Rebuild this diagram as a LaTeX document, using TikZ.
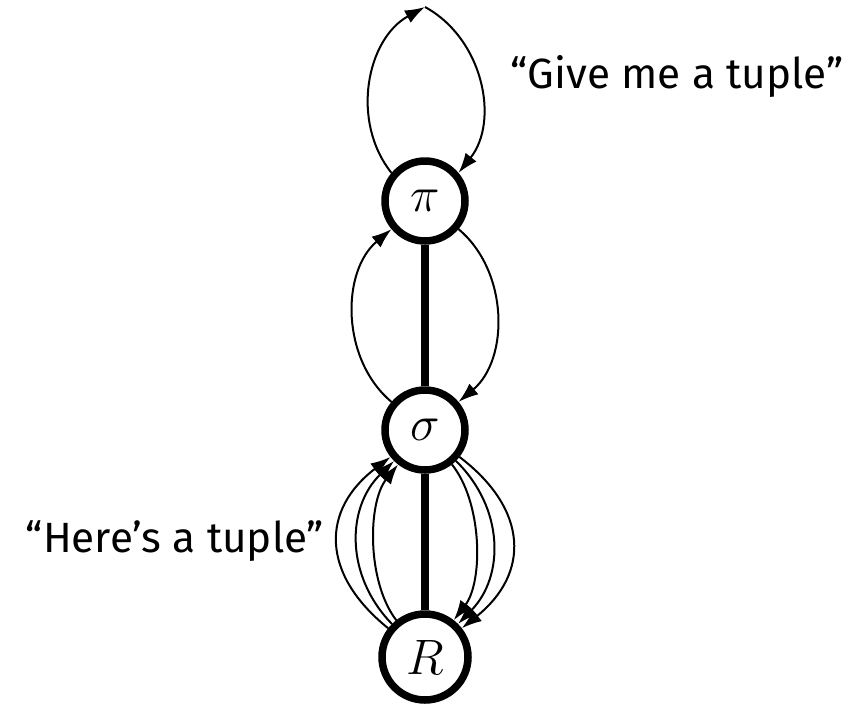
\documentclass[tikz,border=0pt]{standalone}
\usepackage{graphicx}
\usepackage{fontspec}
\setmainfont{Fira Sans}
\usetikzlibrary{arrows.meta}
\newcommand{\bigmath}[1]{\scalebox{2}{$#1$}}
\begin{document}
\begin{tikzpicture}[x=1pt,y=1pt,
  state/.style={circle, draw, line width=7.5pt, fill=white, inner sep=0pt, font=\fontsize{24.88}{30}\selectfont},
  flow/.style={line width=2pt, -{Latex[length=20pt,width=14pt]}},
  link/.style={line width=7.5pt},
  lbl/.style={font=\fontsize{42.3}{50}\selectfont, anchor=base}]
\useasboundingbox (0,0) rectangle (856,-705);
\node[state, minimum size=80pt] (pi) at (425,-201) {\bigmath{\pi}};
\node[state, minimum size=80pt] (sigma) at (425,-430) {\bigmath{\sigma}};
\node[state, minimum size=86pt] (R) at (425,-657) {\bigmath{R}};
\coordinate (top) at (425,-7);
\draw[link] (pi.south) -- (sigma.north);
\draw[link] (sigma.south) -- (R.north);
\draw[flow] (pi) to[bend left=50, looseness=1.0] (top);
\draw[flow] (top) to[bend left=50, looseness=1.0] (pi);
\draw[flow] (sigma) to[bend left=50, looseness=0.98] (pi);
\draw[flow] (pi) to[bend left=50, looseness=0.98] (sigma);
\foreach \a/\l in {38/0.8, 45/1.05, 52/1.3} {
  \draw[flow] (R) to[bend left=\a, looseness=\l] (sigma);
  \draw[flow] (sigma) to[bend left=\a, looseness=\l] (R);
}
\node[lbl] (give) at (677,-88) {“Give me a tuple”};
\node[lbl] (here) at (175,-552) {“Here’s a tuple”};
\end{tikzpicture}
\end{document}
